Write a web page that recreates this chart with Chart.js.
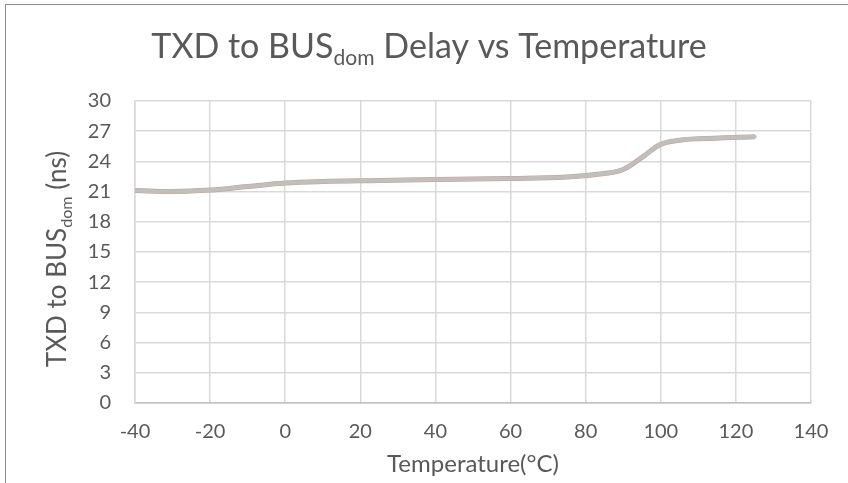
<!DOCTYPE html>
<html>
<head>
<meta charset="utf-8">
<script src="https://cdn.jsdelivr.net/npm/chart.js@4.4.1/dist/chart.umd.min.js"></script>
<style>
    html, body { margin: 0; padding: 0; background: #fff; }
    #wrap { position: relative; width: 848px; height: 483px; overflow: hidden; }
    #frame { position: absolute; left: 5px; top: 4px; width: 900px; height: 600px; border: 1px solid #8c8c8c; }
    canvas { position: absolute; left: 0; top: 0; }
</style>
</head>
<body>
<div id="wrap">
    <div id="frame"></div>
    <canvas id="delayChart" width="848" height="483"></canvas>
</div>
<script>
// Temperatura (°C) y retardo (ns)
const temps = [-40, -30, -20, -10, 0, 10, 25, 40, 60, 75, 85, 90, 95, 100, 105, 110, 125];
const delayTyp = [21.1, 21.0, 21.15, 21.5, 21.85, 22.0, 22.1, 22.2, 22.3, 22.45, 22.8, 23.2, 24.4, 25.7, 26.1, 26.25, 26.45];
const delayMax = [21.1, 21.0, 21.15, 21.5, 21.85, 22.0, 22.1, 22.2, 22.3, 22.45, 22.8, 23.2, 24.4, 25.7, 26.1, 26.25, 26.45];

const xTicks = { min: -40, max: 140, step: 20 };
const yTicks = { min: 0, max: 30, step: 3 };

const textColor = '#595959';
const fontFamily = 'Lato, "Open Sans", sans-serif';

function toPoints(xs, ys) {
    return xs.map((x, i) => ({ x: x, y: ys[i] }));
}

// Texto con subíndice: partes [{t, sub}]
function richWidth(ctx, parts, size) {
    let w = 0;
    parts.forEach(p => {
        ctx.font = (p.sub ? size * 0.62 : size) + 'px ' + fontFamily;
        w += ctx.measureText(p.t).width;
    });
    return w;
}
function drawRich(ctx, parts, size, x, y) {
    let cx = x;
    parts.forEach(p => {
        ctx.font = (p.sub ? size * 0.62 : size) + 'px ' + fontFamily;
        ctx.fillText(p.t, cx, p.sub ? y + size * 0.22 : y);
        cx += ctx.measureText(p.t).width;
    });
}

const titleParts = [{ t: 'TXD to BUS' }, { t: 'dom', sub: true }, { t: ' Delay vs Temperature' }];
const yTitleParts = [{ t: 'TXD to BUS' }, { t: 'dom', sub: true }, { t: ' (ns)' }];

const richTitles = {
    id: 'richTitles',
    afterDraw(chart) {
        const ctx = chart.ctx;
        ctx.save();
        ctx.fillStyle = textColor;
        ctx.textBaseline = 'alphabetic';
        ctx.textAlign = 'left';
        // título principal
        const ts = 34;
        const tw = richWidth(ctx, titleParts, ts);
        drawRich(ctx, titleParts, ts, 429 - tw / 2, 58);
        // título eje Y (rotado)
        const ys = 26;
        const yw = richWidth(ctx, yTitleParts, ys);
        ctx.translate(66, 259);
        ctx.rotate(-Math.PI / 2);
        drawRich(ctx, yTitleParts, ys, -yw / 2, 0);
        ctx.restore();
    }
};

const ctx = document.getElementById('delayChart').getContext('2d');
new Chart(ctx, {
    type: 'scatter',
    data: {
        datasets: [
            {
                label: 'Max',
                data: toPoints(temps, delayMax),
                showLine: true,
                borderColor: '#c9a08c',
                borderWidth: 5,
                pointRadius: 0,
                tension: 0.4,
                order: 2
            },
            {
                label: 'Typ',
                data: toPoints(temps, delayTyp),
                showLine: true,
                borderColor: '#bfbfbf',
                borderWidth: 4,
                borderCapStyle: 'round',
                pointRadius: 0,
                tension: 0.4,
                order: 1
            }
        ]
    },
    options: {
        responsive: false,
        animation: false,
        layout: { padding: { top: 101, right: 37, left: 0, bottom: 0 } },
        plugins: {
            legend: { display: false },
            title: { display: false },
            tooltip: { enabled: false }
        },
        scales: {
            x: {
                type: 'linear',
                min: xTicks.min,
                max: xTicks.max,
                afterFit: s => { s.height = 80; },
                ticks: {
                    stepSize: xTicks.step,
                    color: textColor,
                    padding: 17,
                    maxRotation: 0,
                    font: { family: fontFamily, size: 20 }
                },
                grid: { color: '#d9d9d9', lineWidth: 1.5, drawTicks: false },
                border: { color: '#bfbfbf', width: 1.5 },
                title: {
                    display: true,
                    text: 'Temperature(°C)',
                    color: textColor,
                    font: { family: fontFamily, size: 24 },
                    padding: { top: 4, bottom: 4 }
                }
            },
            y: {
                min: yTicks.min,
                max: yTicks.max,
                afterFit: s => { s.width = 135; },
                ticks: {
                    stepSize: yTicks.step,
                    color: textColor,
                    padding: 24,
                    font: { family: fontFamily, size: 20 }
                },
                grid: { color: '#d9d9d9', lineWidth: 1.5, drawTicks: false },
                border: { color: '#d9d9d9', width: 1.5 }
            }
        }
    },
    plugins: [richTitles]
});
</script>
</body>
</html>
